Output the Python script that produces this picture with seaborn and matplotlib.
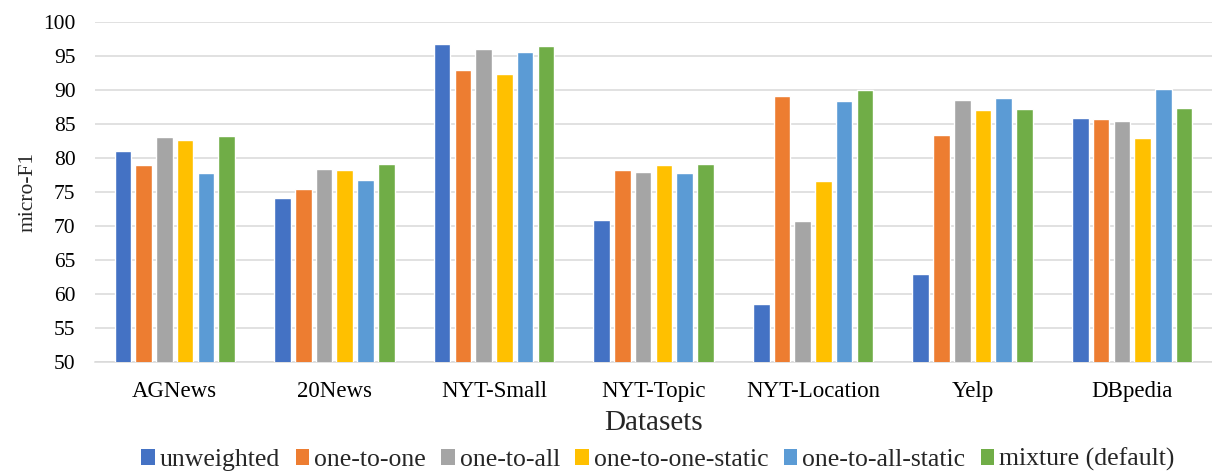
import matplotlib
matplotlib.use("Agg")
import matplotlib.pyplot as plt
from matplotlib.patches import Patch
import pandas as pd
import seaborn as sns

datasets = ["AGNews", "20News", "NYT-Small", "NYT-Topic", "NYT-Location", "Yelp", "DBpedia"]
methods = ["unweighted", "one-to-one", "one-to-all", "one-to-one-static",
           "one-to-all-static", "mixture (default)"]

unweighted = [81.1, 74.1, 96.7, 70.9, 58.5, 63.0, 85.9]
one_to_one = [79.0, 75.5, 93.0, 78.3, 89.1, 83.4, 85.8]
one_to_all = [83.1, 78.4, 96.1, 77.9, 70.7, 88.6, 85.4]
one_to_one_static = [82.7, 78.3, 92.3, 79.0, 76.6, 87.0, 82.9]
one_to_all_static = [77.8, 76.7, 95.6, 77.8, 88.4, 88.8, 90.1]
mixture = [83.3, 79.1, 96.4, 79.1, 90.0, 87.2, 87.3]

colors = ["#4472C4", "#ED7D31", "#A5A5A5", "#FFC000", "#5B9BD5", "#70AD47"]

series = [unweighted, one_to_one, one_to_all, one_to_one_static, one_to_all_static, mixture]
rows = []
for m, vals in zip(methods, series):
    for d, v in zip(datasets, vals):
        rows.append({"dataset": d, "method": m, "score": v})
df = pd.DataFrame(rows)

sns.set_theme(style="white")
plt.rcParams["font.family"] = ["Liberation Serif", "DejaVu Serif"]

fig = plt.figure(figsize=(12.12, 4.71), dpi=100)
ax = fig.add_axes([0.0784, 0.2314, 0.9216, 0.7219])

sns.barplot(data=df, x="dataset", y="score", hue="method", order=datasets,
            hue_order=methods, palette=colors, saturation=1, width=0.78, gap=0.2,
            legend=False, ax=ax, zorder=3)

ax.set_ylim(50, 100)
ax.set_xlim(-0.5, len(datasets) - 0.5)
ax.set_yticks(range(50, 101, 5))
ax.yaxis.grid(True, color="#D9D9D9", linewidth=1.1, zorder=0)
ax.set_axisbelow(True)
for s in ["top", "right", "left"]:
    ax.spines[s].set_visible(False)
ax.spines["bottom"].set_color("#D9D9D9")
ax.spines["bottom"].set_linewidth(1.1)
ax.tick_params(axis="both", length=0, colors="black")
ax.tick_params(axis="x", labelsize=16.5, pad=14)
ax.tick_params(axis="y", labelsize=15.5, pad=14)
ax.set_ylabel("micro-F1", fontsize=15.5, labelpad=4)
ax.set_xlabel("Datasets", fontsize=21, labelpad=5.5)

handles = [Patch(facecolor=c, edgecolor="none") for c in colors]
fig.legend(handles, methods, loc="center", bbox_to_anchor=(0.543, 0.024), ncol=6,
           frameon=False, fontsize=18.5, handlelength=0.52, handleheight=0.6,
           handletextpad=0.2, columnspacing=0.6, borderaxespad=0)

fig.savefig("out.png", dpi=100)
